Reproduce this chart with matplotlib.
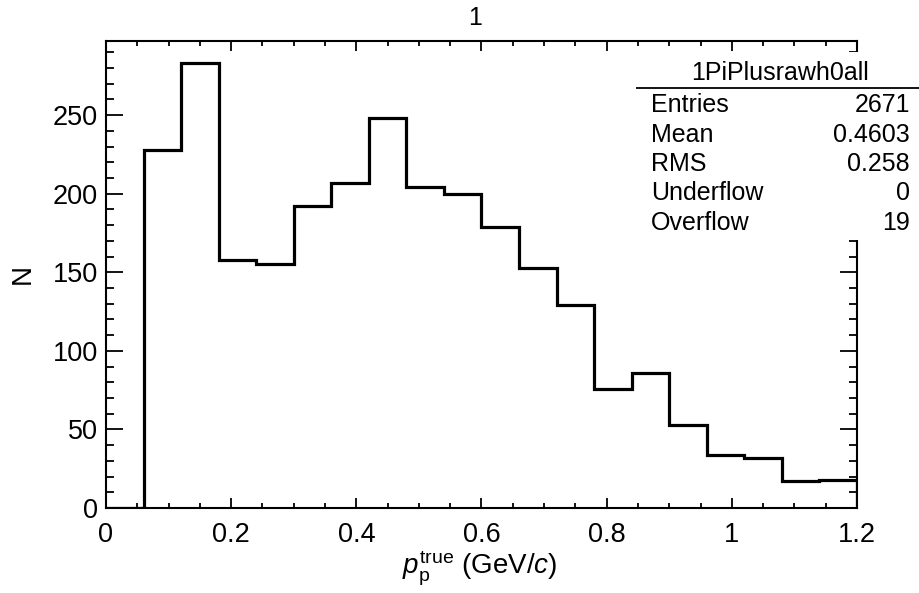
import numpy as np
import matplotlib
matplotlib.use("Agg")
import matplotlib.pyplot as plt
from matplotlib.ticker import MultipleLocator, FixedLocator
from matplotlib.lines import Line2D

plt.rcParams['font.family'] = ['Liberation Sans', 'DejaVu Sans']
plt.rcParams['mathtext.fontset'] = 'custom'
plt.rcParams['mathtext.rm'] = 'Liberation Sans'
plt.rcParams['mathtext.it'] = 'Liberation Sans:italic'
plt.rcParams['mathtext.bf'] = 'Liberation Sans:bold'

# Data
bin_edges = np.round(np.arange(0, 1.2001, 0.06), 2)
counts = [0, 228, 283, 158, 155, 192, 207, 248, 204, 200,
          179, 153, 129, 76, 86, 53, 34, 32, 17, 18]
xticks = [0, 0.2, 0.4, 0.6, 0.8, 1.0, 1.2]
xtick_labels = ["0", "0.2", "0.4", "0.6", "0.8", "1", "1.2"]
yticks = [0, 50, 100, 150, 200, 250]
stat_title = "1PiPlusrawh0all"
stat_names = ["Entries", "Mean", "RMS", "Underflow", "Overflow"]
stat_values = ["2671", "0.4603", "0.258", "0", "19"]

W, H = 920, 593
fig = plt.figure(figsize=(W / 100, H / 100), dpi=100)
L, R, T, B = 106, 857, 41, 508
ax = fig.add_axes([L / W, 1 - B / H, (R - L) / W, (B - T) / H])

ax.stairs(counts, bin_edges, fill=False, color='black', lw=2.3, baseline=0)
ax.set_xlim(0, 1.2)
ax.set_ylim(0, 297.15)

ax.xaxis.set_major_locator(FixedLocator(xticks))
ax.set_xticklabels(xtick_labels)
ax.xaxis.set_minor_locator(MultipleLocator(0.05))
ax.yaxis.set_major_locator(FixedLocator(yticks))
ax.yaxis.set_minor_locator(MultipleLocator(10))

ax.tick_params(which='both', direction='in', top=True, right=True, width=1.3, colors='black')
ax.tick_params(axis='x', which='major', length=7.5, labelsize=19.5, pad=10)
ax.tick_params(axis='x', which='minor', length=3.8)
ax.tick_params(axis='y', which='major', length=12, labelsize=19.5, pad=6)
ax.tick_params(axis='y', which='minor', length=6)
for s in ax.spines.values():
    s.set_linewidth(1.5)

fig.text(480 / W, 1 - 568 / H, r"$p_{\mathrm{p}}^{\mathrm{true}}$ (GeV/$c$)",
         ha='center', va='center', fontsize=20)
fig.text(23 / W, 1 - 274 / H, "N", rotation=90, ha='center', va='center', fontsize=20)
fig.text(475 / W, 1 - 18 / H, "1", ha='center', va='center', fontsize=18)

# Stats box
bx0, bx1, by0, by1 = 636, 920, 52, 240
sax = fig.add_axes([bx0 / W, 1 - by1 / H, (bx1 - bx0) / W, (by1 - by0) / H], zorder=5)
sax.set_facecolor('white')
for s in sax.spines.values():
    s.set_visible(False)
sax.set_xticks([])
sax.set_yticks([])
sax.set_xlim(bx0, bx1)
sax.set_ylim(by1, by0)
sax.text(780, 73, stat_title, ha='center', va='center', fontsize=18)
sax.add_line(Line2D([bx0, bx1], [88, 88], color='black', lw=1.3))
rows_y = [105, 134.5, 164, 193.5, 223]
for name, val, yy in zip(stat_names, stat_values, rows_y):
    sax.text(651, yy, name, ha='left', va='center', fontsize=18)
    sax.text(910, yy, val, ha='right', va='center', fontsize=18)

fig.savefig("out.png", dpi=100)
